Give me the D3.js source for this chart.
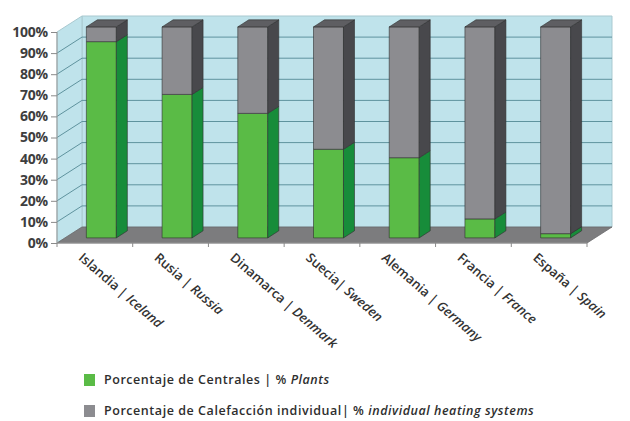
<!DOCTYPE html>
<html>
<head>
<meta charset="utf-8">
<script src="https://cdn.jsdelivr.net/npm/d3@7/dist/d3.min.js"></script>
<style>
  html, body { margin: 0; padding: 0; background: #ffffff; }
  svg { display: block; }
  text { font-family: "Open Sans", "Noto Sans", sans-serif; }
</style>
</head>
<body>
<svg id="chart" width="630" height="421"></svg>
<script>
// Share of district heating plants vs individual heating systems by country
const categories = [
  "Islandia | Iceland", "Rusia | Russia", "Dinamarca | Denmark",
  "Suecia| Sweden", "Alemania | Germany", "Francia | France", "España | Spain"
];
const catEs = ["Islandia |", "Rusia |", "Dinamarca |", "Suecia|", "Alemania |", "Francia |", "España |"];
const catEn = ["Iceland", "Russia", "Denmark", "Sweden", "Germany", "France", "Spain"];
const plants = [93, 68, 59, 42, 38, 9, 2];
const individual = [7, 32, 41, 58, 62, 91, 98];
const yTicks = [0, 10, 20, 30, 40, 50, 60, 70, 80, 90, 100];

const svg = d3.select("#chart");

// front plane of the 3D box
const x0 = 57, x1 = 587;
const depth = { dx: 25, dy: -16 };

const x = d3.scaleBand().domain(categories).range([x0, x1])
  .paddingInner(0.604).paddingOuter(0.302);
const y = d3.scaleLinear().domain([0, 100]).range([243, 32]);

// project a point at a given depth fraction (0 = front, 1 = back)
const P = (px, v, d) => [px + d * depth.dx, y(v) + d * depth.dy];
const poly = pts => "M" + pts.map(p => p.join(",")).join("L") + "Z";

const wallFill = "#bfe3eb", gridCol = "#5f939e", wallEdge = "#a9c9d0";

// back wall
svg.append("path")
  .attr("d", poly([P(x0, 0, 1), P(x1, 0, 1), P(x1, 100, 1), P(x0, 100, 1)]))
  .attr("fill", wallFill).attr("stroke", wallEdge).attr("stroke-width", 1);
// left side wall
svg.append("path")
  .attr("d", poly([P(x0, 0, 0), P(x0, 0, 1), P(x0, 100, 1), P(x0, 100, 0)]))
  .attr("fill", wallFill).attr("stroke", wallEdge).attr("stroke-width", 1);

// gridlines on both walls
yTicks.filter(t => t > 0 && t < 100).forEach(t => {
  svg.append("path")
    .attr("d", "M" + P(x0, t, 0).join(",") + "L" + P(x0, t, 1).join(",") + "L" + P(x1, t, 1).join(","))
    .attr("fill", "none").attr("stroke", gridCol).attr("stroke-width", 1);
});

// floor
svg.append("path")
  .attr("d", poly([P(x0, 0, 0), P(x1, 0, 0), P(x1, 0, 1), P(x0, 0, 1)]))
  .attr("fill", "#7c7c7e").attr("stroke", "#6a6a6c").attr("stroke-width", 0.8);

// axes lines and ticks
svg.append("line").attr("x1", x0).attr("x2", x0).attr("y1", y(0)).attr("y2", y(100))
  .attr("stroke", "#9a9a9a").attr("stroke-width", 1);
svg.append("line").attr("x1", x0).attr("x2", x1).attr("y1", y(0)).attr("y2", y(0))
  .attr("stroke", "#9a9a9a").attr("stroke-width", 1);

const yAxis = d3.axisLeft(y).tickValues(yTicks).tickFormat(d => d + "%").tickSize(6).tickPadding(3);
const gy = svg.append("g").attr("transform", `translate(${x0},0)`).call(yAxis);
gy.select(".domain").remove();
gy.selectAll(".tick line").attr("stroke", "#8a8a8a");
gy.selectAll(".tick text")
  .attr("fill", "#3e3e3e").attr("font-size", 14).attr("font-weight", 700)
  .style("letter-spacing", "-0.2px");

// x ticks at category boundaries
const step = x.step();
d3.range(categories.length + 1).forEach(i => {
  const tx = x0 + i * step;
  svg.append("line").attr("x1", tx).attr("x2", tx).attr("y1", y(0)).attr("y2", y(0) + 4)
    .attr("stroke", "#8a8a8a").attr("stroke-width", 1);
});

// 3D stacked bars
const bd0 = 0.32, bd1 = 0.76;
const colors = {
  plants: { front: "#5abb46", side: "#178c3a", top: "#3e9f3a" },
  indiv: { front: "#8c8c90", side: "#48484c", top: "#5e5e62" }
};
const edge = "#2f2f2f";

categories.forEach((c, i) => {
  const bx = x(c) - 1.5, bw = x.bandwidth();
  const segs = [
    { lo: 0, hi: plants[i], col: colors.plants },
    { lo: plants[i], hi: plants[i] + individual[i], col: colors.indiv }
  ];
  segs.forEach((s, k) => {
    const g = svg.append("g");
    // front face
    g.append("path")
      .attr("d", poly([P(bx, s.lo, bd0), P(bx + bw, s.lo, bd0), P(bx + bw, s.hi, bd0), P(bx, s.hi, bd0)]))
      .attr("fill", s.col.front).attr("stroke", edge).attr("stroke-width", 0.6);
    // right side face
    g.append("path")
      .attr("d", poly([P(bx + bw, s.lo, bd0), P(bx + bw, s.lo, bd1), P(bx + bw, s.hi, bd1), P(bx + bw, s.hi, bd0)]))
      .attr("fill", s.col.side).attr("stroke", edge).attr("stroke-width", 0.6);
    // top face of the stack
    if (k === segs.length - 1) {
      g.append("path")
        .attr("d", poly([P(bx, s.hi, bd0), P(bx + bw, s.hi, bd0), P(bx + bw, s.hi, bd1), P(bx, s.hi, bd1)]))
        .attr("fill", s.col.top).attr("stroke", edge).attr("stroke-width", 0.6);
    }
  });
});

// rotated category labels
categories.forEach((c, i) => {
  const cx = x(c) + x.bandwidth() / 2;
  const t = svg.append("text")
    .attr("transform", `translate(${cx - 17},${259}) rotate(41)`)
    .attr("font-size", 13).attr("font-weight", 600).attr("fill", "#333")
    .style("letter-spacing", "0px");
  t.append("tspan").text(catEs[i] + " ");
  t.append("tspan").attr("font-style", "italic").text(catEn[i]);
});

// legend
const legend = [
  { color: "#5abb46", es: "Porcentaje de Centrales | % ", en: "Plants", y: 380 },
  { color: "#8c8c90", es: "Porcentaje de Calefacción individual| % ", en: "individual heating systems", y: 411 }
];
legend.forEach(l => {
  svg.append("rect").attr("x", 84).attr("y", l.y - 6).attr("width", 11).attr("height", 12)
    .attr("fill", l.color);
  const t = svg.append("text").attr("x", 104).attr("y", l.y).attr("dy", "0.35em")
    .attr("font-size", 12.5).attr("fill", "#2e2e2e").attr("font-weight", 600)
    .style("letter-spacing", "0.55px");
  t.append("tspan").text(l.es);
  t.append("tspan").attr("font-style", "italic").text(l.en);
});
</script>
</body>
</html>
